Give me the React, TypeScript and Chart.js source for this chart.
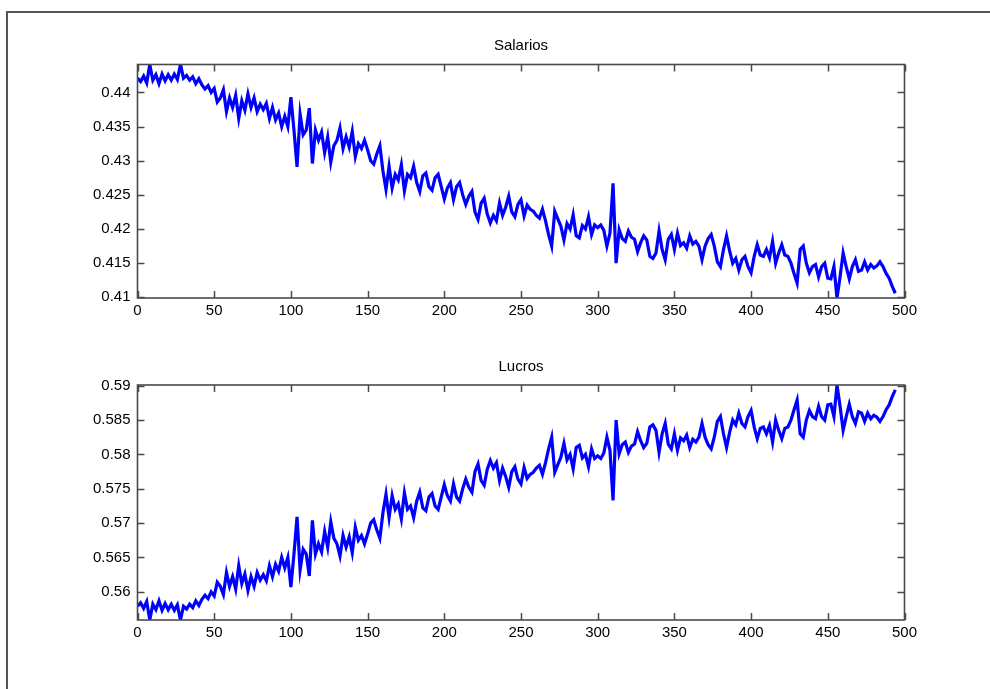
import React, { useEffect, useRef } from "react";
import { Chart, registerables } from "chart.js";

Chart.register(...registerables);

const xIndex = [
  0, 2, 4, 6, 8, 10, 12, 14, 16, 18, 20, 22, 24, 26, 28, 30, 32, 34, 36, 38, 40, 42, 44, 46, 48,
  50, 52, 54, 56, 58, 60, 62, 64, 66, 68, 70, 72, 74, 76, 78, 80, 82, 84, 86, 88, 90, 92, 94, 96, 98,
  100, 102, 104, 106, 108, 110, 112, 114, 116, 118, 120, 122, 124, 126, 128, 130, 132, 134, 136, 138, 140, 142, 144, 146, 148,
  150, 152, 154, 156, 158, 160, 162, 164, 166, 168, 170, 172, 174, 176, 178, 180, 182, 184, 186, 188, 190, 192, 194, 196, 198,
  200, 202, 204, 206, 208, 210, 212, 214, 216, 218, 220, 222, 224, 226, 228, 230, 232, 234, 236, 238, 240, 242, 244, 246, 248,
  250, 252, 254, 256, 258, 260, 262, 264, 266, 268, 270, 272, 274, 276, 278, 280, 282, 284, 286, 288, 290, 292, 294, 296, 298,
  300, 302, 304, 306, 308, 310, 312, 314, 316, 318, 320, 322, 324, 326, 328, 330, 332, 334, 336, 338, 340, 342, 344, 346, 348,
  350, 352, 354, 356, 358, 360, 362, 364, 366, 368, 370, 372, 374, 376, 378, 380, 382, 384, 386, 388, 390, 392, 394, 396, 398,
  400, 402, 404, 406, 408, 410, 412, 414, 416, 418, 420, 422, 424, 426, 428, 430, 432, 434, 436, 438, 440, 442, 444, 446, 448,
  450, 452, 454, 456, 458, 460, 462, 464, 466, 468, 470, 472, 474, 476, 478, 480, 482, 484, 486, 488, 490, 492, 494,
];

const salarios = [
  0.4421, 0.4416, 0.4424, 0.4414, 0.4441, 0.4418, 0.4426, 0.4413, 0.4427, 0.4417, 0.4426, 0.4418, 0.4427, 0.4419, 0.4441, 0.4421, 0.4425, 0.4418, 0.4423, 0.4413, 0.4420, 0.4411, 0.4405, 0.4410, 0.4400,
  0.4406, 0.4386, 0.4392, 0.4404, 0.4372, 0.4392, 0.4378, 0.4396, 0.4362, 0.4388, 0.4374, 0.4398, 0.4378, 0.4392, 0.4372, 0.4383, 0.4375, 0.4384, 0.4362, 0.4378, 0.4360, 0.4370, 0.4350, 0.4365, 0.4350,
  0.4393, 0.4345, 0.4291, 0.4368, 0.4338, 0.4345, 0.4377, 0.4296, 0.4345, 0.4330, 0.4342, 0.4312, 0.4335, 0.4298, 0.4322, 0.4330, 0.4348, 0.4318, 0.4335, 0.4320, 0.4343, 0.4306, 0.4325, 0.4318, 0.4330,
  0.4316, 0.4300, 0.4295, 0.4310, 0.4322, 0.4285, 0.4258, 0.4292, 0.4260, 0.4280, 0.4272, 0.4294, 0.4256, 0.4280, 0.4275, 0.4292, 0.4268, 0.4255, 0.4278, 0.4282, 0.4262, 0.4257, 0.4275, 0.4280, 0.4262,
  0.4244, 0.4260, 0.4268, 0.4243, 0.4262, 0.4268, 0.4250, 0.4236, 0.4248, 0.4255, 0.4225, 0.4214, 0.4238, 0.4245, 0.4222, 0.4209, 0.4220, 0.4212, 0.4238, 0.4220, 0.4232, 0.4248, 0.4225, 0.4218, 0.4236,
  0.4243, 0.4219, 0.4235, 0.4229, 0.4226, 0.4220, 0.4216, 0.4229, 0.4212, 0.4192, 0.4175, 0.4226, 0.4215, 0.4204, 0.4184, 0.4208, 0.4200, 0.4221, 0.4190, 0.4187, 0.4205, 0.4200, 0.4218, 0.4192, 0.4206,
  0.4202, 0.4206, 0.4198, 0.4175, 0.4194, 0.4267, 0.4150, 0.4199, 0.4186, 0.4182, 0.4197, 0.4188, 0.4185, 0.4167, 0.4180, 0.4190, 0.4184, 0.4160, 0.4157, 0.4165, 0.4197, 0.4170, 0.4155, 0.4185, 0.4192,
  0.4170, 0.4194, 0.4176, 0.4180, 0.4172, 0.4190, 0.4178, 0.4182, 0.4175, 0.4155, 0.4175, 0.4186, 0.4192, 0.4175, 0.4152, 0.4145, 0.4170, 0.4190, 0.4168, 0.4150, 0.4157, 0.4140, 0.4155, 0.4160, 0.4145,
  0.4136, 0.4160, 0.4177, 0.4162, 0.4160, 0.4170, 0.4158, 0.4182, 0.4150, 0.4165, 0.4177, 0.4162, 0.4160, 0.4150, 0.4135, 0.4121, 0.4170, 0.4175, 0.4150, 0.4136, 0.4145, 0.4148, 0.4130, 0.4145, 0.4150,
  0.4128, 0.4127, 0.4145, 0.4099, 0.4130, 0.4165, 0.4145, 0.4127, 0.4145, 0.4155, 0.4138, 0.4140, 0.4152, 0.4140, 0.4148, 0.4143, 0.4146, 0.4152, 0.4145, 0.4135, 0.4128, 0.4116, 0.4106,
];

const lucros = [
  0.5579, 0.5584, 0.5576, 0.5586, 0.5559, 0.5582, 0.5574, 0.5587, 0.5573, 0.5583, 0.5574, 0.5582, 0.5573, 0.5581, 0.5559, 0.5579, 0.5575, 0.5582, 0.5577, 0.5587, 0.5580, 0.5589, 0.5595, 0.5590, 0.5600,
  0.5594, 0.5614, 0.5608, 0.5596, 0.5628, 0.5608, 0.5622, 0.5604, 0.5638, 0.5612, 0.5626, 0.5602, 0.5622, 0.5608, 0.5628, 0.5617, 0.5625, 0.5616, 0.5638, 0.5622, 0.5640, 0.5630, 0.5650, 0.5635, 0.5650,
  0.5607, 0.5655, 0.5709, 0.5632, 0.5662, 0.5655, 0.5623, 0.5704, 0.5655, 0.5670, 0.5658, 0.5688, 0.5665, 0.5702, 0.5678, 0.5670, 0.5652, 0.5682, 0.5665, 0.5680, 0.5657, 0.5694, 0.5675, 0.5682, 0.5670,
  0.5684, 0.5700, 0.5705, 0.5690, 0.5678, 0.5715, 0.5742, 0.5708, 0.5740, 0.5720, 0.5728, 0.5706, 0.5744, 0.5720, 0.5725, 0.5708, 0.5732, 0.5745, 0.5722, 0.5718, 0.5738, 0.5743, 0.5725, 0.5720, 0.5738,
  0.5756, 0.5740, 0.5732, 0.5757, 0.5738, 0.5732, 0.5750, 0.5764, 0.5752, 0.5745, 0.5775, 0.5786, 0.5762, 0.5755, 0.5778, 0.5791, 0.5780, 0.5788, 0.5762, 0.5780, 0.5768, 0.5752, 0.5775, 0.5782, 0.5764,
  0.5757, 0.5781, 0.5765, 0.5771, 0.5774, 0.5780, 0.5784, 0.5771, 0.5788, 0.5808, 0.5825, 0.5774, 0.5785, 0.5796, 0.5816, 0.5792, 0.5800, 0.5779, 0.5810, 0.5813, 0.5795, 0.5800, 0.5782, 0.5808, 0.5794,
  0.5798, 0.5794, 0.5802, 0.5825, 0.5806, 0.5733, 0.5850, 0.5801, 0.5814, 0.5818, 0.5803, 0.5812, 0.5815, 0.5833, 0.5820, 0.5810, 0.5816, 0.5840, 0.5843, 0.5835, 0.5803, 0.5830, 0.5845, 0.5815, 0.5808,
  0.5830, 0.5806, 0.5824, 0.5820, 0.5828, 0.5810, 0.5822, 0.5818, 0.5825, 0.5845, 0.5825, 0.5814, 0.5808, 0.5825, 0.5848, 0.5855, 0.5830, 0.5810, 0.5832, 0.5850, 0.5843, 0.5860, 0.5845, 0.5840, 0.5855,
  0.5864, 0.5840, 0.5823, 0.5838, 0.5840, 0.5830, 0.5842, 0.5818, 0.5850, 0.5835, 0.5823, 0.5838, 0.5840, 0.5850, 0.5865, 0.5879, 0.5830, 0.5825, 0.5850, 0.5864, 0.5855, 0.5852, 0.5870, 0.5855, 0.5850,
  0.5872, 0.5873, 0.5855, 0.5901, 0.5870, 0.5835, 0.5855, 0.5873, 0.5855, 0.5845, 0.5862, 0.5860, 0.5848, 0.5860, 0.5852, 0.5857, 0.5854, 0.5848, 0.5855, 0.5865, 0.5872, 0.5884, 0.5894,
];

const xTicks = [0, 50, 100, 150, 200, 250, 300, 350, 400, 450, 500];
const xTickLabels = ["0", "50", "100", "150", "200", "250", "300", "350", "400", "450", "500"];
const salTicks = [0.41, 0.415, 0.42, 0.425, 0.43, 0.435, 0.44];
const salTickLabels = ["0.41", "0.415", "0.42", "0.425", "0.43", "0.435", "0.44"];
const lucTicks = [0.56, 0.565, 0.57, 0.575, 0.58, 0.585, 0.59];
const lucTickLabels = ["0.56", "0.565", "0.57", "0.575", "0.58", "0.585", "0.59"];

const FONT = "'Liberation Sans', Arial, Helvetica, sans-serif";
const FONT_SIZE = 15;
const AXIS_COLOR = "#4a4a4a";

const boxPlugin = {
  id: "matlabBox",
  afterDatasetsDraw(chart: any) {
    const { ctx, chartArea, scales } = chart;
    const { left, right, top, bottom } = chartArea;
    const tl = 7;
    ctx.save();
    ctx.strokeStyle = AXIS_COLOR;
    ctx.lineWidth = 1.5;
    ctx.beginPath();
    (chart.options.plugins.matlabBox.xTicks as number[]).forEach((v) => {
      const px = Math.round(scales.x.getPixelForValue(v)) + 0.5;
      ctx.moveTo(px, bottom);
      ctx.lineTo(px, bottom - tl);
      ctx.moveTo(px, top);
      ctx.lineTo(px, top + tl);
    });
    (chart.options.plugins.matlabBox.yTicks as number[]).forEach((v) => {
      const py = Math.round(scales.y.getPixelForValue(v)) + 0.5;
      ctx.moveTo(left, py);
      ctx.lineTo(left + tl, py);
      ctx.moveTo(right, py);
      ctx.lineTo(right - tl, py);
    });
    ctx.stroke();
    ctx.lineWidth = 1.6;
    ctx.strokeRect(left, top, right - left, bottom - top);
    ctx.restore();
  },
};

type PanelProps = {
  title: string;
  values: number[];
  yMin: number;
  yMax: number;
  yTicks: number[];
  yLabels: string[];
  height: number;
  areaTop: number;
  areaBottom: number;
  titleMid: number;
};

function Panel(props: PanelProps) {
  const ref = useRef<HTMLCanvasElement | null>(null);
  useEffect(() => {
    if (!ref.current) return;
    const points = xIndex.map((x, i) => ({ x, y: props.values[i] }));
    const lh = FONT_SIZE * 1.2;
    const padTop = props.titleMid - lh / 2;
    const padBottom = props.areaTop - padTop - lh;
    const chart = new Chart(ref.current, {
      type: "line",
      data: {
        datasets: [
          {
            data: points,
            borderColor: "#0000ff",
            borderWidth: 3.2,
            pointRadius: 0,
            tension: 0,
            fill: false,
          },
        ],
      },
      options: {
        animation: false,
        responsive: false,
        devicePixelRatio: 1,
        events: [],
        layout: { padding: { left: 0, right: 85.5, top: 0, bottom: 0 } },
        plugins: {
          legend: { display: false },
          tooltip: { enabled: false },
          title: {
            display: true,
            text: props.title,
            fullSize: false,
            color: "#000",
            font: { family: FONT, size: FONT_SIZE, weight: "normal", lineHeight: 1.2 },
            padding: { top: padTop, bottom: padBottom },
          },
          // @ts-ignore
          matlabBox: { xTicks, yTicks: props.yTicks },
        },
        scales: {
          x: {
            type: "linear",
            min: 0,
            max: 500,
            grid: { display: false, drawTicks: false },
            border: { display: false },
            afterBuildTicks: (s: any) => {
              s.ticks = xTicks.map((v) => ({ value: v }));
            },
            afterFit: (s: any) => {
              s.height = props.height - props.areaBottom;
            },
            ticks: {
              autoSkip: false,
              maxRotation: 0,
              padding: 4,
              color: "#000",
              font: { family: FONT, size: FONT_SIZE },
              callback: (v: any) => xTickLabels[xTicks.indexOf(Number(v))] ?? "",
            },
          },
          y: {
            type: "linear",
            min: props.yMin,
            max: props.yMax,
            grid: { display: false, drawTicks: false },
            border: { display: false },
            afterBuildTicks: (s: any) => {
              s.ticks = props.yTicks.map((v) => ({ value: v }));
            },
            afterFit: (s: any) => {
              s.width = 137.5;
            },
            ticks: {
              autoSkip: false,
              padding: 7,
              color: "#000",
              font: { family: FONT, size: FONT_SIZE },
              callback: (v: any) => {
                const i = props.yTicks.findIndex((t) => Math.abs(t - Number(v)) < 1e-9);
                return i >= 0 ? props.yLabels[i] : "";
              },
            },
          },
        },
      },
      plugins: [boxPlugin],
    } as any);
    return () => chart.destroy();
  }, []);
  return <canvas ref={ref} width={990} height={props.height} style={{ display: "block", width: 990, height: props.height }} />;
}

export default function App() {
  return (
    <div
      style={{
        position: "absolute",
        left: 0,
        top: 0,
        width: 990,
        height: 689,
        overflow: "hidden",
        background: "#fff",
      }}
    >
      <div
        style={{
          position: "absolute",
          left: 6,
          top: 11,
          width: 1100,
          height: 800,
          borderTop: "2px solid #555",
          borderLeft: "2px solid #555",
        }}
      />
      <div style={{ position: "absolute", left: 0, top: 0 }}>
        <Panel
          title="Salarios"
          values={salarios}
          yMin={0.4099}
          yMax={0.4441}
          yTicks={salTicks}
          yLabels={salTickLabels}
          height={340}
          areaTop={64.5}
          areaBottom={298}
          titleMid={46}
        />
      </div>
      <div style={{ position: "absolute", left: 0, top: 340 }}>
        <Panel
          title="Lucros"
          values={lucros}
          yMin={0.5559}
          yMax={0.5901}
          yTicks={lucTicks}
          yLabels={lucTickLabels}
          height={349}
          areaTop={45}
          areaBottom={280}
          titleMid={27}
        />
      </div>
    </div>
  );
}
